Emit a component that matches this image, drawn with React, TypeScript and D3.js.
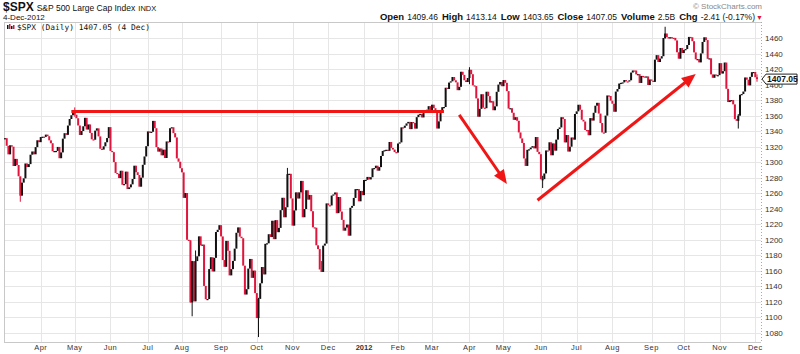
import React, { useEffect, useRef } from 'react';
import * as d3 from 'd3';

// trading days per month (day of month), Mar 3 2011 .. Dec 4 2012
const months: string[] = [
  '2011-03', '2011-04', '2011-05', '2011-06', '2011-07', '2011-08', '2011-09', '2011-10', '2011-11', '2011-12',
  '2012-01', '2012-02', '2012-03', '2012-04', '2012-05', '2012-06', '2012-07', '2012-08', '2012-09', '2012-10',
  '2012-11', '2012-12'
];

const tradingDays: number[][] = [
  [3, 4, 7, 8, 9, 10, 11, 14, 15, 16, 17, 18, 21, 22, 23, 24, 25, 28, 29, 30, 31],
  [1, 4, 5, 6, 7, 8, 11, 12, 13, 14, 15, 18, 19, 20, 21, 25, 26, 27, 28, 29],
  [2, 3, 4, 5, 6, 9, 10, 11, 12, 13, 16, 17, 18, 19, 20, 23, 24, 25, 26, 27, 31],
  [1, 2, 3, 6, 7, 8, 9, 10, 13, 14, 15, 16, 17, 20, 21, 22, 23, 24, 27, 28, 29, 30],
  [1, 5, 6, 7, 8, 11, 12, 13, 14, 15, 18, 19, 20, 21, 22, 25, 26, 27, 28, 29],
  [1, 2, 3, 4, 5, 8, 9, 10, 11, 12, 15, 16, 17, 18, 19, 22, 23, 24, 25, 26, 29, 30, 31],
  [1, 2, 6, 7, 8, 9, 12, 13, 14, 15, 16, 19, 20, 21, 22, 23, 26, 27, 28, 29, 30],
  [3, 4, 5, 6, 7, 10, 11, 12, 13, 14, 17, 18, 19, 20, 21, 24, 25, 26, 27, 28, 31],
  [1, 2, 3, 4, 7, 8, 9, 10, 11, 14, 15, 16, 17, 18, 21, 22, 23, 25, 28, 29, 30],
  [1, 2, 5, 6, 7, 8, 9, 12, 13, 14, 15, 16, 19, 20, 21, 22, 23, 27, 28, 29, 30],
  [3, 4, 5, 6, 9, 10, 11, 12, 13, 17, 18, 19, 20, 23, 24, 25, 26, 27, 30, 31],
  [1, 2, 3, 6, 7, 8, 9, 10, 13, 14, 15, 16, 17, 21, 22, 23, 24, 27, 28, 29],
  [1, 2, 5, 6, 7, 8, 9, 12, 13, 14, 15, 16, 19, 20, 21, 22, 23, 26, 27, 28, 29, 30],
  [2, 3, 4, 5, 9, 10, 11, 12, 13, 16, 17, 18, 19, 20, 23, 24, 25, 26, 27, 30],
  [1, 2, 3, 4, 7, 8, 9, 10, 11, 14, 15, 16, 17, 18, 21, 22, 23, 24, 25, 29, 30, 31],
  [1, 4, 5, 6, 7, 8, 11, 12, 13, 14, 15, 18, 19, 20, 21, 22, 25, 26, 27, 28, 29],
  [2, 3, 5, 6, 9, 10, 11, 12, 13, 16, 17, 18, 19, 20, 23, 24, 25, 26, 27, 30, 31],
  [1, 2, 3, 6, 7, 8, 9, 10, 13, 14, 15, 16, 17, 20, 21, 22, 23, 24, 27, 28, 29, 30, 31],
  [4, 5, 6, 7, 10, 11, 12, 13, 14, 17, 18, 19, 20, 21, 24, 25, 26, 27, 28],
  [1, 2, 3, 4, 5, 8, 9, 10, 11, 12, 15, 16, 17, 18, 19, 22, 23, 24, 25, 26, 31],
  [1, 2, 5, 6, 7, 8, 9, 12, 13, 14, 15, 16, 19, 20, 21, 23, 26, 27, 28, 29, 30],
  [3, 4]
];

// daily closes, same shape as tradingDays
const closes: number[][] = [
  [1330.97, 1321.15, 1310.13, 1321.82, 1320.02, 1295.11, 1304.28, 1296.39, 1281.87, 1256.88, 1273.72, 1279.21, 1298.38, 1293.77, 1297.54, 1309.66, 1313.80, 1310.19, 1319.44, 1328.26, 1325.83],
  [1332.41, 1332.87, 1332.63, 1335.54, 1333.51, 1328.17, 1324.46, 1314.16, 1314.41, 1314.52, 1319.68, 1305.14, 1312.62, 1330.36, 1337.38, 1335.25, 1347.24, 1355.66, 1360.48, 1363.61],
  [1361.22, 1356.62, 1347.32, 1335.10, 1340.20, 1346.29, 1357.16, 1342.08, 1348.65, 1337.77, 1329.47, 1328.98, 1340.68, 1343.60, 1333.27, 1317.37, 1316.28, 1320.47, 1325.69, 1331.10, 1345.20],
  [1314.55, 1312.94, 1300.16, 1286.17, 1284.94, 1279.56, 1289.00, 1270.98, 1271.83, 1287.87, 1265.42, 1267.64, 1271.50, 1278.36, 1295.52, 1287.14, 1283.50, 1268.45, 1280.10, 1296.67, 1307.41, 1320.64],
  [1339.67, 1337.88, 1339.22, 1353.22, 1343.80, 1319.49, 1313.64, 1317.72, 1308.87, 1316.14, 1305.44, 1326.73, 1325.84, 1343.80, 1345.02, 1337.43, 1331.94, 1304.89, 1300.67, 1292.28],
  [1286.94, 1254.05, 1260.34, 1200.07, 1199.38, 1119.46, 1172.53, 1120.76, 1172.64, 1178.81, 1204.49, 1192.76, 1193.89, 1140.65, 1123.53, 1123.82, 1162.35, 1177.60, 1159.27, 1176.80, 1210.08, 1212.92, 1218.89],
  [1204.42, 1173.97, 1165.24, 1198.62, 1185.90, 1154.23, 1162.27, 1172.87, 1188.68, 1209.11, 1216.01, 1204.09, 1202.09, 1166.76, 1129.56, 1136.43, 1162.95, 1175.38, 1151.06, 1160.40, 1131.42],
  [1099.23, 1123.95, 1144.03, 1164.97, 1155.46, 1194.89, 1195.54, 1207.25, 1203.66, 1224.58, 1200.86, 1225.38, 1209.88, 1215.39, 1238.25, 1254.19, 1229.05, 1242.00, 1284.59, 1285.09, 1253.30],
  [1218.28, 1237.90, 1261.15, 1253.23, 1261.12, 1275.92, 1229.10, 1239.69, 1263.85, 1251.78, 1257.81, 1236.91, 1216.13, 1215.65, 1192.98, 1188.04, 1161.79, 1158.67, 1192.55, 1195.19, 1246.96],
  [1244.58, 1244.28, 1257.08, 1258.47, 1261.01, 1234.35, 1255.19, 1236.47, 1225.73, 1211.82, 1215.75, 1219.66, 1205.35, 1241.30, 1243.72, 1254.00, 1265.33, 1265.43, 1249.64, 1263.02, 1257.60],
  [1277.06, 1277.30, 1281.06, 1277.81, 1280.70, 1292.08, 1292.48, 1295.50, 1289.09, 1293.67, 1308.04, 1314.50, 1315.38, 1316.00, 1314.65, 1326.06, 1318.43, 1316.33, 1313.01, 1312.41],
  [1324.09, 1325.54, 1344.90, 1344.33, 1347.05, 1349.96, 1351.95, 1342.64, 1351.77, 1350.50, 1343.23, 1358.04, 1361.23, 1362.21, 1357.66, 1363.46, 1365.74, 1367.59, 1372.18, 1365.68],
  [1374.09, 1369.63, 1364.33, 1343.36, 1352.63, 1365.91, 1370.87, 1371.09, 1395.95, 1394.28, 1402.60, 1404.17, 1409.75, 1405.52, 1402.89, 1392.78, 1397.11, 1416.51, 1412.52, 1405.54, 1403.28, 1408.47],
  [1419.04, 1413.38, 1398.96, 1398.08, 1382.20, 1358.59, 1368.71, 1387.57, 1370.26, 1369.57, 1390.78, 1385.14, 1376.92, 1378.53, 1366.94, 1371.97, 1390.69, 1399.98, 1403.36, 1397.91],
  [1405.82, 1402.31, 1391.57, 1369.10, 1369.58, 1363.72, 1354.58, 1357.99, 1353.39, 1338.35, 1330.66, 1324.80, 1304.86, 1295.22, 1315.99, 1316.63, 1318.86, 1320.68, 1317.82, 1332.42, 1313.32, 1310.33],
  [1278.04, 1278.18, 1285.50, 1315.13, 1314.99, 1325.66, 1308.93, 1324.18, 1314.88, 1329.10, 1342.84, 1344.78, 1357.98, 1355.69, 1325.51, 1335.02, 1313.72, 1319.99, 1331.85, 1329.04, 1362.16],
  [1365.51, 1374.02, 1367.58, 1354.68, 1352.46, 1341.47, 1341.45, 1334.76, 1356.78, 1353.64, 1363.67, 1372.78, 1376.51, 1362.66, 1350.52, 1338.31, 1337.89, 1360.02, 1385.97, 1385.30, 1379.32],
  [1375.32, 1365.00, 1390.99, 1394.23, 1401.35, 1402.22, 1402.80, 1405.87, 1404.11, 1403.93, 1405.53, 1415.51, 1418.16, 1418.13, 1413.17, 1413.49, 1402.08, 1411.13, 1410.44, 1409.30, 1410.49, 1399.48, 1406.58],
  [1404.94, 1403.44, 1432.12, 1437.92, 1429.08, 1433.56, 1436.56, 1459.99, 1465.77, 1461.19, 1459.32, 1461.05, 1460.26, 1460.15, 1456.89, 1441.59, 1433.32, 1447.15, 1440.67],
  [1444.49, 1445.75, 1450.99, 1461.40, 1460.93, 1455.88, 1441.48, 1432.56, 1432.84, 1428.59, 1440.13, 1454.92, 1460.91, 1457.34, 1433.19, 1433.82, 1413.11, 1408.75, 1412.97, 1411.94, 1412.16],
  [1427.59, 1414.20, 1417.26, 1428.39, 1394.53, 1377.51, 1379.85, 1380.03, 1374.53, 1355.49, 1353.33, 1359.88, 1386.89, 1387.81, 1391.03, 1409.15, 1406.29, 1398.94, 1409.93, 1415.95, 1416.18],
  [1409.46, 1407.05]
];

// intraday extremes visible as long wicks: [date, low, high]
const wicks: [string, number, number][] = [
  ['2011-03-16', 1249.05, 1280.91],
  ['2011-05-02', 1358.68, 1370.58],
  ['2011-08-08', 1119.28, 1199.04],
  ['2011-08-09', 1101.54, 1172.88],
  ['2011-08-11', 1121.09, 1186.29],
  ['2011-10-04', 1074.77, 1125.34],
  ['2011-10-27', 1242.48, 1292.66],
  ['2011-11-25', 1158.66, 1172.66],
  ['2012-04-02', 1400.50, 1422.38],
  ['2012-06-04', 1266.74, 1282.55],
  ['2012-09-14', 1458.99, 1474.51],
  ['2012-11-16', 1343.35, 1362.03],
  ['2012-12-04', 1403.65, 1413.14]
];

const monthTicks: [string, string][] = [
  ['2011-04', 'Apr'], ['2011-05', 'May'], ['2011-06', 'Jun'], ['2011-07', 'Jul'], ['2011-08', 'Aug'],
  ['2011-09', 'Sep'], ['2011-10', 'Oct'], ['2011-11', 'Nov'], ['2011-12', 'Dec'], ['2012-01', '2012'],
  ['2012-02', 'Feb'], ['2012-03', 'Mar'], ['2012-04', 'Apr'], ['2012-05', 'May'], ['2012-06', 'Jun'],
  ['2012-07', 'Jul'], ['2012-08', 'Aug'], ['2012-09', 'Sep'], ['2012-10', 'Oct'], ['2012-11', 'Nov'],
  ['2012-12', 'Dec']
];

const priceTicks: number[] = [1080, 1100, 1120, 1140, 1160, 1180, 1200, 1220, 1240, 1260, 1280, 1300,
  1320, 1340, 1360, 1380, 1400, 1420, 1440, 1460];

// hand-drawn red annotations: [date, price] pairs
const annotations: { from: [string, number]; to: [string, number]; arrow: boolean }[] = [
  { from: ['2011-04-28', 1365.3], to: ['2012-03-12', 1365.3], arrow: false },
  { from: ['2012-03-23', 1361], to: ['2012-05-03', 1272], arrow: true },
  { from: ['2012-05-30', 1251], to: ['2012-10-10', 1413.6], arrow: true }
];

const stats: [string, string][] = [
  ['Open', '1409.46'], ['High', '1413.14'], ['Low', '1403.65'], ['Close', '1407.05'],
  ['Volume', '2.5B'], ['Chg', '-2.41 (-0.17%)']
];

const lastClose = 1407.05;
const FONT = '"Liberation Sans", Arial, sans-serif';
const RED = '#e0143c';

export default function App() {
  const svgRef = useRef<SVGSVGElement>(null);

  useEffect(() => {
    if (!svgRef.current) return;
    const width = 800;
    const height = 354;
    const plot = { left: 4, right: 761, top: 22, bottom: 342 };

    const dates: string[] = [];
    const values: number[] = [];
    months.forEach((m, mi) => {
      tradingDays[mi].forEach((d, di) => {
        dates.push(`${m}-${String(d).padStart(2, '0')}`);
        values.push(closes[mi][di]);
      });
    });
    const idx = new Map(dates.map((d, i) => [d, i]));
    const n = values.length;

    const x = d3.scaleLinear().domain([0, n - 1]).range([5, 757]);
    const y = d3.scaleLinear().domain([1080, 1460]).range([333, 38]);

    const svg = d3.select(svgRef.current);
    svg.selectAll('*').remove();
    svg.attr('width', width).attr('height', height).style('background', '#fff');

    // grid
    const grid = svg.append('g').attr('stroke', '#e6e6e6').attr('stroke-width', 1);
    priceTicks.forEach(p => {
      grid.append('line')
        .attr('x1', plot.left).attr('x2', plot.right)
        .attr('y1', Math.round(y(p)) + 0.5).attr('y2', Math.round(y(p)) + 0.5);
    });
    const monthX = (m: string) => x(dates.findIndex(d => d.startsWith(m)));
    monthTicks.forEach(([m]) => {
      const gx = Math.round(monthX(m)) + 0.5;
      grid.append('line').attr('x1', gx).attr('x2', gx).attr('y1', plot.top).attr('y2', plot.bottom);
    });

    // plot border
    svg.append('line').attr('x1', plot.left + 0.5).attr('x2', plot.left + 0.5)
      .attr('y1', plot.top).attr('y2', plot.bottom).attr('stroke', '#c8c8c8');
    svg.append('line').attr('x1', plot.left).attr('x2', plot.right)
      .attr('y1', plot.top + 0.5).attr('y2', plot.top + 0.5).attr('stroke', '#c8c8c8');
    svg.append('line').attr('x1', plot.left).attr('x2', plot.right)
      .attr('y1', plot.bottom + 0.5).attr('y2', plot.bottom + 0.5).attr('stroke', '#c8c8c8');
    svg.append('line').attr('x1', plot.right + 0.5).attr('x2', plot.right + 0.5)
      .attr('y1', plot.top).attr('y2', plot.bottom).attr('stroke', '#aaa').attr('stroke-dasharray', '1,2');

    // candles (open = prior close)
    const wickMap = new Map(wicks.map(w => [w[0], w]));
    const candles = svg.append('g');
    values.forEach((c, i) => {
      const o = i > 0 ? values[i - 1] : c;
      const up = c >= o;
      const col = up ? '#111' : RED;
      const w = wickMap.get(dates[i]);
      if (w) {
        candles.append('line')
          .attr('x1', x(i)).attr('x2', x(i))
          .attr('y1', y(w[2])).attr('y2', y(w[1]))
          .attr('stroke', col).attr('stroke-width', 1);
      }
      const top = y(Math.max(o, c));
      const h = Math.max(1.2, y(Math.min(o, c)) - top);
      candles.append('rect')
        .attr('x', x(i) - 1).attr('width', 2)
        .attr('y', top).attr('height', h)
        .attr('fill', col);
    });

    // red annotations
    const ann = svg.append('g');
    annotations.forEach(a => {
      const x1 = x(idx.get(a.from[0])!), y1 = y(a.from[1]);
      const x2 = x(idx.get(a.to[0])!), y2 = y(a.to[1]);
      const ang = Math.atan2(y2 - y1, x2 - x1);
      const headLen = a.arrow ? 14 : 0;
      ann.append('line')
        .attr('x1', x1).attr('y1', y1)
        .attr('x2', x2 - Math.cos(ang) * headLen * 0.8).attr('y2', y2 - Math.sin(ang) * headLen * 0.8)
        .attr('stroke', '#f01616').attr('stroke-width', 3);
      if (a.arrow) {
        const hw = 6;
        const bx = x2 - Math.cos(ang) * headLen, by = y2 - Math.sin(ang) * headLen;
        const pts = [
          [x2, y2],
          [bx + Math.sin(ang) * hw, by - Math.cos(ang) * hw],
          [bx - Math.sin(ang) * hw, by + Math.cos(ang) * hw]
        ];
        ann.append('polygon').attr('points', pts.map(p => p.join(',')).join(' ')).attr('fill', '#f01616');
      }
    });

    // y labels
    const yl = svg.append('g').attr('font-family', FONT).attr('font-size', 8).attr('fill', '#333');
    priceTicks.forEach(p => {
      yl.append('text').attr('x', 765).attr('y', y(p) + 3).text(p);
    });

    // last price tag
    const ly = y(lastClose);
    svg.append('polygon')
      .attr('points', `762,${ly} 766,${ly - 5} 797,${ly - 5} 797,${ly + 5} 766,${ly + 5}`)
      .attr('fill', '#fff').attr('stroke', '#222').attr('stroke-width', 1);
    svg.append('text').attr('x', 767).attr('y', ly + 3)
      .attr('font-family', FONT).attr('font-size', 8.5).attr('font-weight', 'bold').attr('fill', '#111')
      .text(lastClose.toFixed(2));

    // x labels
    const xl = svg.append('g').attr('font-family', FONT).attr('font-size', 7.5).attr('fill', '#333')
      .attr('text-anchor', 'middle');
    monthTicks.forEach(([m, label]) => {
      xl.append('text').attr('x', monthX(m)).attr('y', 350)
        .attr('font-weight', label === '2012' ? 'bold' : 'normal')
        .attr('letter-spacing', label === '2012' ? 0 : 0.5)
        .text(label);
    });

    // header
    const hdr = svg.append('g').attr('font-family', FONT).attr('fill', '#111');
    const t1 = hdr.append('text').attr('x', 3).attr('y', 11);
    t1.append('tspan').attr('font-size', 12).attr('font-weight', 'bold').text('$SPX');
    t1.append('tspan').attr('font-size', 8.5).attr('dx', 3).text('S&P 500 Large Cap Index');
    t1.append('tspan').attr('font-size', 7.5).attr('dx', 3).text('INDX');
    hdr.append('text').attr('x', 3).attr('y', 19.5).attr('font-size', 8).text('4-Dec-2012');

    hdr.append('text').attr('x', 762).attr('y', 9).attr('text-anchor', 'end')
      .attr('font-size', 8).attr('fill', '#888').text('© StockCharts.com');

    const t2 = hdr.append('text').attr('x', 755).attr('y', 20).attr('text-anchor', 'end');
    stats.forEach(([k, v], i) => {
      t2.append('tspan').attr('font-size', 9.5).attr('font-weight', 'bold').attr('dx', i ? 4 : 0).text(k);
      t2.append('tspan').attr('font-size', 8.5).attr('dx', 3).text(v);
    });
    hdr.append('text').attr('x', 763).attr('y', 19.5).attr('text-anchor', 'end')
      .attr('font-size', 7).attr('fill', RED).text('▼');

    // legend inside plot
    const lg = svg.append('g');
    [[7, 1, 4, '#111'], [9, 0, 5, RED], [11, 2, 3, '#111'], [13, 1, 4, RED]].forEach(([lx, o, h, c]) => {
      lg.append('rect').attr('x', lx as number).attr('y', 24 + (o as number)).attr('width', 1.5)
        .attr('height', h as number).attr('fill', c as string);
    });
    svg.append('text').attr('x', 17).attr('y', 30)
      .attr('font-family', '"DejaVu Sans Mono", monospace').attr('font-size', 7.9).attr('fill', '#111')
      .text('$SPX (Daily) 1407.05 (4 Dec)');
  }, []);

  return <svg ref={svgRef} style={{ display: 'block', position: 'absolute', left: 0, top: 0 }} />;
}
